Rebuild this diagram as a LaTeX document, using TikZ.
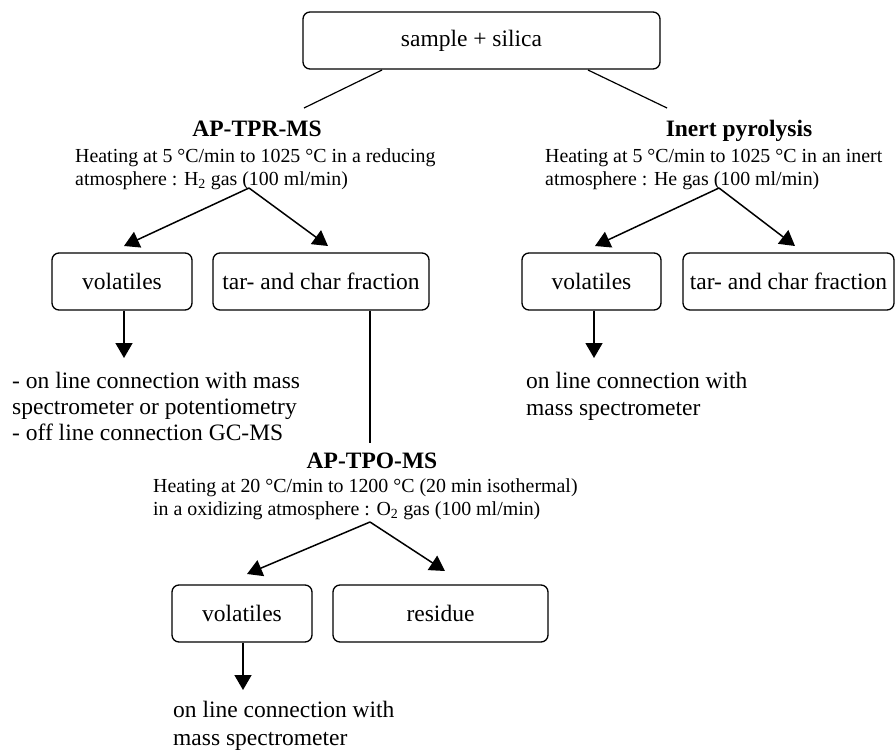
\documentclass[tikz,border=0pt]{standalone}
\usepackage{fontspec}
\setmainfont{Liberation Serif}
\usetikzlibrary{arrows.meta}
\begin{document}
\begin{tikzpicture}[x=1pt,y=-1pt,
  box/.style={draw, line width=1.3pt, rounded corners=7pt, minimum height=57pt, inner sep=0pt, font=\fontsize{23.5}{27}\selectfont},
  ttl/.style={font=\fontsize{23.5}{27}\selectfont\bfseries, inner sep=0pt, anchor=base},
  txt/.style={font=\fontsize{19.9}{23}\selectfont, inner sep=0pt, anchor=base west},
  big/.style={font=\fontsize{23.5}{27}\selectfont, inner sep=0pt, anchor=base west},
  arr/.style={line width=1.5pt, -{Triangle[length=15pt,width=17pt]}},
  ln/.style={line width=1.2pt}]
\useasboundingbox (0,0) rectangle (896,749);

% boxes
\node[box, minimum width=357pt] (top) at (481.5,40.5) {\hspace*{-20pt}sample + silica};
\node[box, minimum width=140pt] (lv) at (122,281.5) {volatiles};
\node[box, minimum width=216pt] (lt) at (321,281.5) {tar- and char fraction};
\node[box, minimum width=139pt] (rv) at (591.5,281.5) {volatiles};
\node[box, minimum width=211pt] (rt) at (788.5,281.5) {tar- and char fraction};
\node[box, minimum width=140pt] (bv) at (242,613.5) {volatiles};
\node[box, minimum width=215pt] (br) at (440.5,613.5) {residue};

% titles
\node[ttl] (t1) at (257,136) {AP-TPR-MS};
\node[ttl] (t2) at (739,136) {Inert pyrolysis};
\node[ttl] (t3) at (372,468) {AP-TPO-MS};

% descriptions
\node[txt] (h1a) at (75,162) {Heating at 5 °C/min to 1025 °C in a reducing};
\node[txt] (h1b) at (75,185) {atmosphere : H\textsubscript{2} gas (100 ml/min)};
\node[txt] (h2a) at (545,162) {Heating at 5 °C/min to 1025 °C in an inert};
\node[txt] (h2b) at (545,185) {atmosphere : He gas (100 ml/min)};
\node[txt] (h3a) at (153,492) {Heating at 20 °C/min to 1200 °C (20 min isothermal)};
\node[txt] (h3b) at (153,515) {in a oxidizing atmosphere : O\textsubscript{2} gas (100 ml/min)};

% outputs
\node[big] (o1a) at (12,388) {- on line connection with mass};
\node[big] (o1b) at (12,414) {spectrometer or potentiometry};
\node[big] (o1c) at (12,440) {- off line connection GC-MS};
\node[big] (o2a) at (526,388) {on line connection with};
\node[big] (o2b) at (526,415) {mass spectrometer};
\node[big] (o3a) at (173,717) {on line connection with};
\node[big] (o3b) at (173,745) {mass spectrometer};

% coordinates
\coordinate (s1) at (382,70);
\coordinate (e1) at (304,108);
\coordinate (s2) at (588,70);
\coordinate (e2) at (667,108);
\coordinate (a1) at (249,188);
\coordinate (a2) at (719,188);
\coordinate (a3) at (370,522);
\coordinate (p1) at (124,246);
\coordinate (p2) at (328,246);
\coordinate (p3) at (595,246);
\coordinate (p4) at (795,246);
\coordinate (p5) at (247,574);
\coordinate (p6) at (445,571);
\coordinate (d1) at (124,358);
\coordinate (d2) at (594,358);
\coordinate (d3) at (243,690);
\coordinate (v1) at (370,443);

\draw[ln] (s1) -- (e1);
\draw[ln] (s2) -- (e2);
\draw[arr] (a1) -- (p1);
\draw[arr] (a1) -- (p2);
\draw[arr] (a2) -- (p3);
\draw[arr] (a2) -- (p4);
\draw[arr] (a3) -- (p5);
\draw[arr] (a3) -- (p6);
\draw[arr] (lv.south -| d1) -- (d1);
\draw[arr] (rv.south -| d2) -- (d2);
\draw[arr] (bv.south -| d3) -- (d3);
\draw[ln] (lt.south -| v1) -- (v1);
\end{tikzpicture}
\end{document}
